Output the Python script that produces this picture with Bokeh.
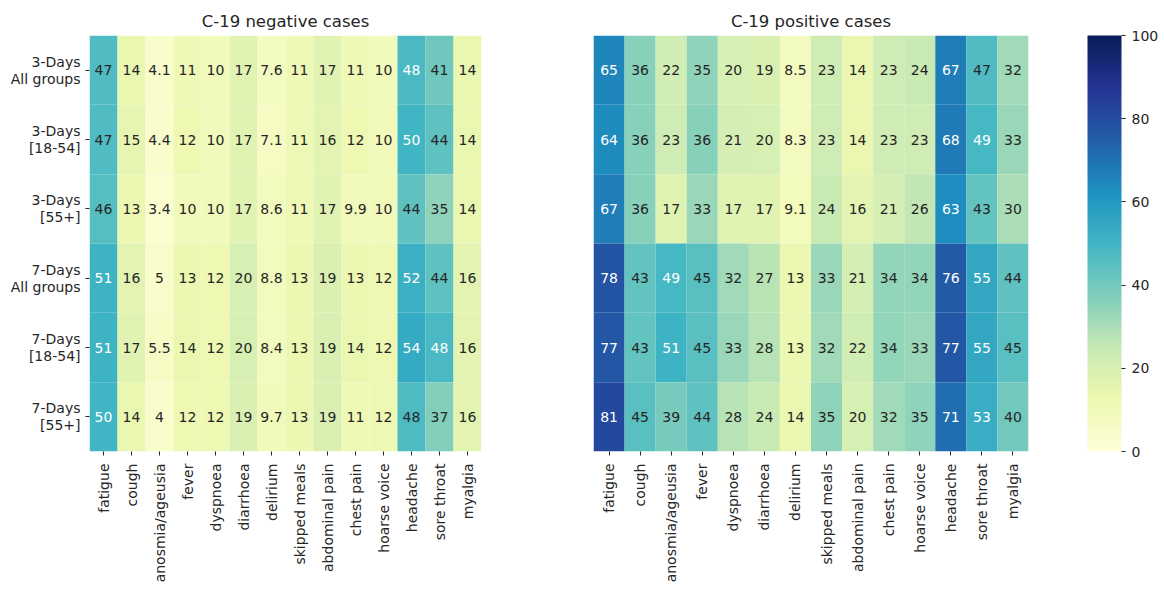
import math
import numpy as np
from bokeh.plotting import figure
from bokeh.models import ColumnDataSource, LinearColorMapper, ColorBar, FixedTicker
from bokeh.layouts import row
from bokeh.transform import transform
from bokeh.core.properties import value
from bokeh.embed import file_html
from bokeh.resources import INLINE

rows = ["3-Days\nAll groups", "3-Days\n[18-54]", "3-Days\n[55+]",
        "7-Days\nAll groups", "7-Days\n[18-54]", "7-Days\n[55+]"]
symptoms = ["fatigue", "cough", "anosmia/ageusia", "fever", "dyspnoea", "diarrhoea",
            "delirium", "skipped meals", "abdominal pain", "chest pain", "hoarse voice",
            "headache", "sore throat", "myalgia"]

negative = [
    [47, 14, 4.1, 11, 10, 17, 7.6, 11, 17, 11, 10, 48.2, 41, 14],
    [47, 15, 4.4, 12, 10, 17, 7.1, 11, 16, 12, 10, 50, 44, 14],
    [46, 13, 3.4, 10, 10, 17, 8.6, 11, 17, 9.9, 10, 44, 35, 14],
    [51, 16, 5, 13, 12, 20, 8.8, 13, 19, 13, 12, 52, 44, 16],
    [51, 17, 5.5, 14, 12, 20, 8.4, 13, 19, 14, 12, 54, 48.3, 16],
    [50, 14, 4, 12, 12, 19, 9.7, 13, 19, 11, 12, 47.6, 37, 16],
]
positive = [
    [65, 36, 22, 35, 20, 19, 8.5, 23, 14, 23, 24, 67, 47, 32],
    [64, 36, 23, 36, 21, 20, 8.3, 23, 14, 23, 23, 68, 49, 33],
    [67, 36, 17, 33, 17, 17, 9.1, 24, 16, 21, 26, 63, 43, 30],
    [78, 43, 49, 45, 32, 27, 13, 33, 21, 34, 34, 76, 55, 44],
    [77, 43, 51, 45, 33, 28, 13, 32, 22, 34, 33, 77, 55, 45],
    [81, 45, 39, 44, 28, 24, 14, 35, 20, 32, 35, 71, 53, 40],
]
cbar_ticks = [0, 20, 40, 60, 80, 100]
titles = ["C-19 negative cases", "C-19 positive cases"]

# YlGnBu interpolated to 256 colours (as matplotlib does)
base = ["#ffffd9", "#edf8b1", "#c7e9b4", "#7fcdbb", "#41b6c4",
        "#1d91c0", "#225ea8", "#253494", "#081d58"]
base_rgb = np.array([[int(c[i:i + 2], 16) for i in (1, 3, 5)] for c in base], dtype=float)
pos = np.linspace(0, 1, len(base))
grid = np.linspace(0, 1, 256)
pal_rgb = np.stack([np.interp(grid, pos, base_rgb[:, k]) for k in range(3)], axis=1)
palette = ["#%02x%02x%02x" % tuple(int(round(v)) for v in c) for c in pal_rgb]

mapper = LinearColorMapper(palette=palette, low=0, high=100)

DARK = "#262626"
FONT = "DejaVu Sans"
H = 592
TOP = 35
FRAME_H = 416


def lum(rgb):
    c = rgb / 255.0
    c = np.where(c <= 0.03928, c / 12.92, ((c + 0.055) / 1.055) ** 2.4)
    return 0.2126 * c[0] + 0.7152 * c[1] + 0.0722 * c[2]


def make_source(data):
    xs, ys, vs, labels, tcs = [], [], [], [], []
    for i, r in enumerate(rows):
        for j, s in enumerate(symptoms):
            v = data[i][j]
            xs.append(s)
            ys.append(r)
            vs.append(v)
            labels.append(format(v, ".2g"))
            idx = min(255, max(0, int(v / 100 * 256)))
            tcs.append(DARK if lum(pal_rgb[idx]) > 0.408 else "#ffffff")
    return ColumnDataSource(dict(x=xs, y=ys, v=vs, label=labels, tc=tcs))


def heat(title, data, width, left, right, show_y):
    p = figure(x_range=symptoms, y_range=list(reversed(rows)), width=width, height=H,
               output_backend="svg", toolbar_location=None, title=title,
               min_border_left=left, min_border_right=right,
               min_border_top=TOP, min_border_bottom=H - TOP - FRAME_H)
    src = make_source(data)
    p.rect(x="x", y="y", width=1, height=1, source=src,
           fill_color=transform("v", mapper), line_color=None)
    p.text(x="x", y="y", text="label", text_color="tc", source=src,
           text_align="center", text_baseline="middle",
           text_font=value(FONT), text_font_size="14px")
    p.title.text_font = FONT
    p.title.text_font_size = "16.5px"
    p.title.text_font_style = "normal"
    p.title.text_color = DARK
    p.title.align = "center"
    p.grid.visible = False
    p.outline_line_color = None
    p.background_fill_color = None
    p.border_fill_color = None
    for ax in (p.xaxis[0], p.yaxis[0]):
        ax.axis_line_color = None
        ax.major_tick_out = 4
        ax.major_tick_in = 0
        ax.major_tick_line_color = DARK
        ax.major_label_text_font = FONT
        ax.major_label_text_font_size = "14px"
        ax.major_label_text_color = DARK
        ax.major_label_standoff = 5
    p.xaxis.major_label_standoff = 8
    p.xaxis.major_label_orientation = math.pi / 2
    p.yaxis.major_label_text_line_height = 1.05
    if not show_y:
        p.yaxis.visible = False
    return p


p1 = heat(titles[0], negative, 568, 89, 87, True)
p2 = heat(titles[1], positive, 596, 25, 136, False)

cb = ColorBar(color_mapper=mapper, ticker=FixedTicker(ticks=cbar_ticks),
              width=34, height=FRAME_H, padding=0, margin=0, location=(59, 0),
              major_tick_out=4, major_tick_in=0, major_tick_line_color=DARK,
              major_label_text_font=FONT, major_label_text_font_size="14px",
              major_label_text_color=DARK, label_standoff=6,
              bar_line_color=None, border_line_color=None,
              background_fill_color=None)
p2.add_layout(cb, "right")

layout = row(p1, p2)
open("out.html", "w").write(file_html(layout, INLINE))
